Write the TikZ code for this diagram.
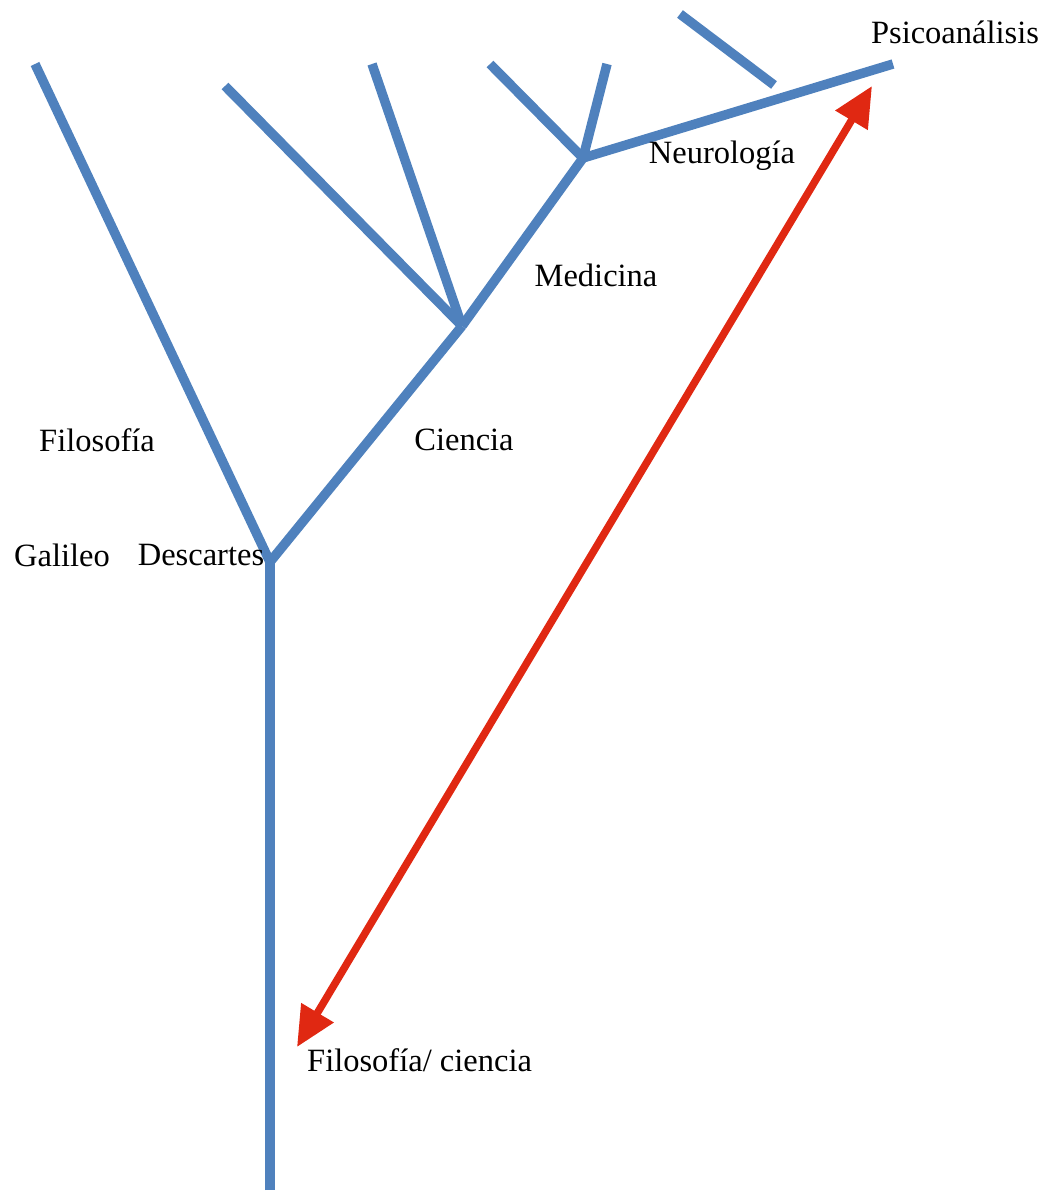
\documentclass[tikz,border=0pt]{standalone}
\usepackage{fontspec}
\setmainfont{Liberation Serif}
\usetikzlibrary{arrows.meta}
\definecolor{branchblue}{RGB}{79,129,189}
\definecolor{arrowred}{RGB}{224,40,18}
\begin{document}
\begin{tikzpicture}[x=1pt,y=-1pt,
  branch/.style={draw=branchblue,line width=9.5pt},
  lbl/.style={font=\fontsize{32.5}{38}\selectfont,inner sep=0pt,text=black},
  dbl/.style={draw=arrowred,line width=7.5pt,{Triangle[length=40pt,width=36pt]}-{Triangle[length=40pt,width=36pt]}}]
\useasboundingbox (0,0) rectangle (1042,1193);
% junctions and ends
\coordinate (root) at (270,1190);
\coordinate (jd) at (270,562);
\coordinate (fil) at (35,64);
\coordinate (jc) at (462,326);
\coordinate (c1) at (225,86);
\coordinate (c2) at (372,64);
\coordinate (jm) at (583,158);
\coordinate (m1) at (490,64);
\coordinate (m2) at (607,64);
\coordinate (neu) at (893,64);
\coordinate (s1) at (680,14);
\coordinate (s2) at (774,85);
% branches
\draw[branch] (root) -- (jd);
\draw[branch] (jd) -- (fil);
\draw[branch] (jd) -- (jc);
\draw[branch] (jc) -- (c1);
\draw[branch] (jc) -- (c2);
\draw[branch] (jc) -- (jm);
\draw[branch] (jm) -- (m1);
\draw[branch] (jm) -- (m2);
\draw[branch] (jm) -- (neu);
\draw[branch] (s1) -- (s2);
% red arrow
\coordinate (atop) at (872,86);
\coordinate (abot) at (297,1047);
\draw[dbl] (abot) -- (atop);
% labels
\node[lbl] (psico) at (955,32) {Psicoanálisis};
\node[lbl] (neuro) at (722,156) {Neurología};
\node[lbl] (medi) at (596,275) {Medicina};
\node[lbl] (cien) at (464,440) {Ciencia};
\node[lbl] (filo) at (97,440) {Filosofía};
\node[lbl] (gali) at (62,555) {Galileo};
\node[lbl] (desc) at (201,555) {Descartes};
\node[lbl,anchor=west] (fc) at (307,1060) {Filosofía/ ciencia};
\end{tikzpicture}
\end{document}
